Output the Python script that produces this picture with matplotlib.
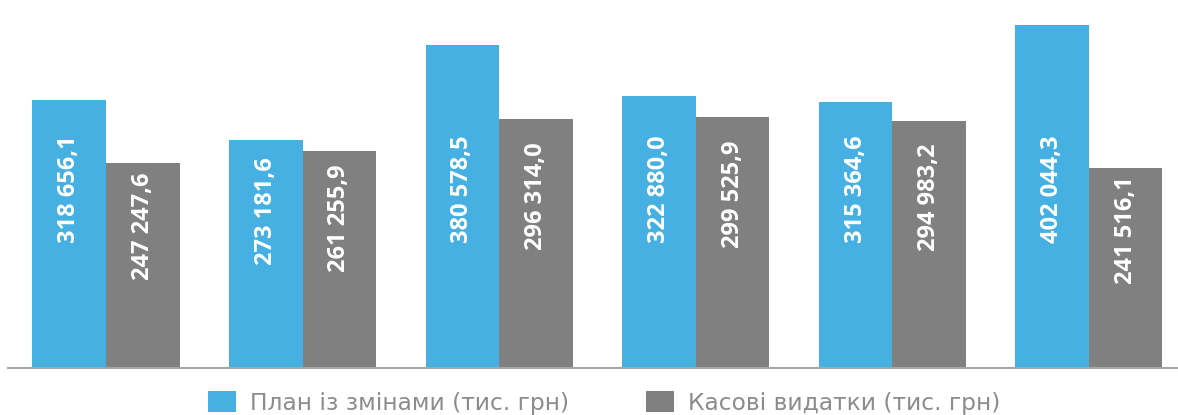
import matplotlib
matplotlib.use("Agg")
from matplotlib import pyplot as plt
import numpy as np

plan = [318656.1, 273181.6, 380578.5, 322880.0, 315364.6, 402044.3]
spent = [247247.6, 261255.9, 296314.0, 299525.9, 294983.2, 241516.1]
plan_labels = ["318 656,1", "273 181,6", "380 578,5", "322 880,0", "315 364,6", "402 044,3"]
spent_labels = ["247 247,6", "261 255,9", "296 314,0", "299 525,9", "294 983,2", "241 516,1"]
legend_names = ["План із змінами (тис. грн)", "Касові видатки (тис. грн)"]

blue = "#45b0e1"
grey = "#808080"
base = 16000
label_cap = 202000

fig = plt.figure(figsize=(11.78, 4.15), dpi=100)
ax = fig.add_axes([8 / 1178, 46.7 / 415, 1 - 8 / 1178, 1 - 46.7 / 415])

x = np.arange(len(plan))
w = 0.374
b1 = ax.bar(x - w / 2, np.array(plan) - base, w, bottom=base, color=blue, label=legend_names[0])
b2 = ax.bar(x + w / 2, np.array(spent) - base, w, bottom=base, color=grey, label=legend_names[1])

# labels sit ~2/3 up the bar, but not higher than a fixed level
for xs, vals, labs in [(x - w / 2, plan, plan_labels), (x + w / 2, spent, spent_labels)]:
    for xi, v, t in zip(xs, vals, labs):
        yc = base + min(0.69 * (v - base), label_cap)
        ax.text(xi, yc, t, rotation=90, ha="center", va="center", color="white",
                fontsize=17, fontweight="bold", family=["Open Sans", "DejaVu Sans"])

ax.set_xlim(-0.4985, 5.453)
ax.set_ylim(base, 430750)
for s in ["top", "right", "left"]:
    ax.spines[s].set_visible(False)
ax.spines["bottom"].set_color("#a6a6a6")
ax.spines["bottom"].set_linewidth(1.5)
ax.set_xticks([])
ax.set_yticks([])

fig.legend(handles=[b1, b2], loc="center", bbox_to_anchor=(604 / 1178, 12 / 415), ncol=2,
           frameon=False, handlelength=1.2, handleheight=1.0,
           handletextpad=0.6, columnspacing=3.3, labelcolor="#8c8c8c",
           prop={"family": ["DejaVu Sans"], "size": 16.8})

fig.savefig("out.png", dpi=100)
